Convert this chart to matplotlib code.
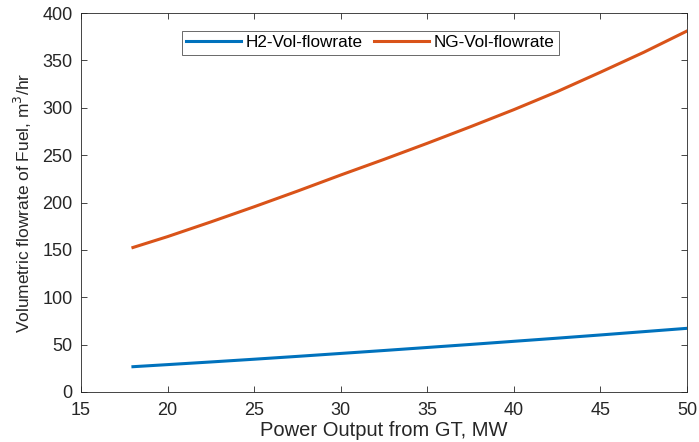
import matplotlib
matplotlib.use('Agg')
import matplotlib.pyplot as plt

plt.rcParams['font.family'] = ['Liberation Sans', 'DejaVu Sans']

power_mw = [18, 20, 22.5, 25, 27.5, 30, 32.5, 35, 37.5, 40, 42.5, 45, 47.5, 50]
h2_flow = [26.7, 28.9, 31.7, 34.6, 37.6, 40.7, 43.8, 47.0, 50.2, 53.5,
           56.8, 60.2, 63.7, 67.2]
ng_flow = [152.5, 164, 179.5, 195.5, 212, 229, 245.5, 262.5, 280, 298,
           317, 337.5, 358.5, 381]

fig = plt.figure(figsize=(6.99, 4.42), dpi=100)
ax = fig.add_axes([81 / 699, 1 - 392 / 442, (687 - 81) / 699, (392 - 13) / 442])

ax.plot(power_mw, h2_flow, color='#0072BD', lw=2.2, label='H2-Vol-flowrate')
ax.plot(power_mw, ng_flow, color='#D95319', lw=2.2, label='NG-Vol-flowrate')

ax.set_xlim(15, 50)
ax.set_ylim(0, 400)
ax.set_xticks(range(15, 51, 5))
ax.set_yticks(range(0, 401, 50))
ax.tick_params(direction='in', top=True, right=True, labelsize=13,
               colors='#262626', length=4, width=0.6)
ax.tick_params(axis='x', pad=7)
ax.tick_params(axis='y', pad=6)
for s in ax.spines.values():
    s.set_color('#262626')
    s.set_linewidth(0.6)

ax.set_xlabel('Power Output from GT, MW', fontsize=14.5, color='#262626',
              labelpad=2)
ax.set_ylabel('Volumetric flowrate of Fuel, m$^3$/hr', fontsize=12.5,
              color='#262626', labelpad=6)

leg = ax.legend(loc='upper left', bbox_to_anchor=(101 / 606, 1 - 18 / 379),
                ncol=2, fontsize=12.3, frameon=True, fancybox=False,
                borderaxespad=0, handlelength=3.2, columnspacing=0.65,
                handletextpad=0.3, borderpad=0.25)
leg.get_frame().set_edgecolor('#262626')
leg.get_frame().set_linewidth(0.6)

fig.savefig('out.png', dpi=100)
